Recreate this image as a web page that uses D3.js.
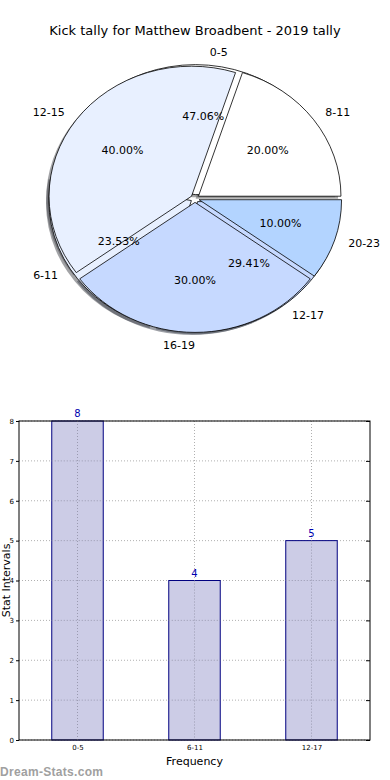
<!DOCTYPE html>
<html>
<head>
<meta charset="utf-8">
<script src="https://cdn.jsdelivr.net/npm/d3@7"></script>
<style>
  body { margin: 0; background: #fff; }
  svg { display: block; font-family: "DejaVu Sans", sans-serif; }
</style>
</head>
<body>
<div id="chart"></div>
<script>
// data
var titleText = "Kick tally for Matthew Broadbent - 2019 tally";

// pie drawn first (sits underneath)
var pieLabelsA = ["0-5", "6-11", "12-17"];
var pieValuesA = [8, 4, 5];
// pie drawn on top
var pieLabelsB = ["8-11", "12-15", "16-19", "20-23"];
var pieValuesB = [2, 4, 3, 1];
var pieColors = ["#ffffff", "#e8f0ff", "#c6d9ff", "#b3d4ff"];

var barCategories = ["0-5", "6-11", "12-17"];
var barValues = [8, 4, 5];
var yTickValues = [0, 1, 2, 3, 4, 5, 6, 7, 8];

var W = 390, H = 780;
var svg = d3.select("#chart").append("svg").attr("width", W).attr("height", H);

svg.append("text")
  .attr("x", 195).attr("y", 35)
  .attr("text-anchor", "middle")
  .style("font-size", "13px")
  .text(titleText);

// ---------- pie ----------
var cx = 195, cy = 198.5, rx = 142.5, ry = 130;
var R = 100, explode = 0.03;

var pieGen = d3.pie().sort(null)
  .startAngle(Math.PI / 2)              // matplotlib: start at 3 o'clock
  .endAngle(Math.PI / 2 - 2 * Math.PI); // counter clockwise
var arc = d3.arc().innerRadius(0).outerRadius(R);

var pieG = svg.append("g");
var scaled = "translate(" + cx + "," + cy + ") scale(" + rx / R + "," + ry / R + ")";
// shadows sit below every wedge, like matplotlib's zorder
var shadowG = pieG.append("g").attr("transform", scaled);
var wedgeG = pieG.append("g").attr("transform", scaled);
var textG = pieG.append("g");

function midAngle(d) { return (d.startAngle + d.endAngle) / 2; }

function drawPie(labels, values) {
  var arcs = pieGen(values);
  var total = d3.sum(values);
  arcs.forEach(function(d, i) {
    var a = midAngle(d);
    var sx = Math.sin(a), sy = -Math.cos(a);
    var ox = explode * R * sx, oy = explode * R * sy;
    var c = d3.rgb(pieColors[i]);
    shadowG.append("path")
      .attr("d", arc(d))
      .attr("transform", "translate(" + (ox - 2) + "," + (oy + 2) + ")")
      .attr("fill", d3.rgb(c.r * 0.3, c.g * 0.3, c.b * 0.3))
      .attr("fill-opacity", 0.5);
    wedgeG.append("path")
      .attr("d", arc(d))
      .attr("transform", "translate(" + ox + "," + oy + ")")
      .attr("fill", pieColors[i])
      .attr("stroke", "#000")
      .attr("stroke-width", 0.8)
      .attr("vector-effect", "non-scaling-stroke");

    var ex = cx + explode * rx * sx, ey = cy + explode * ry * sy;
    textG.append("text")
      .attr("x", ex + 1.1 * rx * sx)
      .attr("y", ey + 1.1 * ry * sy)
      .attr("text-anchor", sx > 0 ? "start" : "end")
      .attr("dominant-baseline", "central")
      .style("font-size", "11px")
      .text(labels[i]);
    textG.append("text")
      .attr("x", ex + 0.6 * rx * sx)
      .attr("y", ey + 0.6 * ry * sy)
      .attr("text-anchor", "middle")
      .attr("dominant-baseline", "central")
      .style("font-size", "11px")
      .text(d3.format(".2f")(values[i] / total * 100) + "%");
  });
}

drawPie(pieLabelsA, pieValuesA);
drawPie(pieLabelsB, pieValuesB);

// ---------- bars ----------
var plotL = 19, plotR = 370, plotT = 421, plotB = 740;

var x = d3.scaleLinear().domain([-0.5, barCategories.length - 0.5]).range([plotL, plotR]);
var y = d3.scaleLinear().domain([0, 8]).range([plotB, plotT]);
var barW = 0.44;

var barG = svg.append("g");

// grid
barG.selectAll("line.gy").data(yTickValues).enter().append("line")
  .attr("x1", plotL).attr("x2", plotR)
  .attr("y1", function(d) { return y(d); }).attr("y2", function(d) { return y(d); })
  .attr("stroke", "#b0b0b0").attr("stroke-width", 1).attr("stroke-dasharray", "1,2");
barG.selectAll("line.gx").data(barCategories).enter().append("line")
  .attr("x1", function(d, i) { return x(i); }).attr("x2", function(d, i) { return x(i); })
  .attr("y1", plotT).attr("y2", plotB)
  .attr("stroke", "#b0b0b0").attr("stroke-width", 1).attr("stroke-dasharray", "1,2");

barG.selectAll("rect.bar").data(barValues).enter().append("rect")
  .attr("x", function(d, i) { return x(i - barW / 2); })
  .attr("width", x(barW) - x(0))
  .attr("y", function(d) { return y(d); })
  .attr("height", function(d) { return y(0) - y(d); })
  .attr("fill", "#cccce6")
  .attr("stroke", "#000080")
  .attr("stroke-width", 1);

// grid shows through the bars
barG.selectAll("line.gx2").data(barCategories).enter().append("line")
  .attr("x1", function(d, i) { return x(i); }).attr("x2", function(d, i) { return x(i); })
  .attr("y1", function(d, i) { return y(barValues[i]); }).attr("y2", plotB)
  .attr("stroke", "#9a9ab0").attr("stroke-width", 1).attr("stroke-dasharray", "1,2");
barG.selectAll("g.gy2").data(barValues).enter().append("g")
  .each(function(v, i) {
    d3.select(this).selectAll("line").data(yTickValues.filter(function(t) { return t > 0 && t < v; }))
      .enter().append("line")
      .attr("x1", x(i - barW / 2)).attr("x2", x(i + barW / 2))
      .attr("y1", function(t) { return y(t); }).attr("y2", function(t) { return y(t); })
      .attr("stroke", "#9a9ab0").attr("stroke-width", 1).attr("stroke-dasharray", "1,2");
  });

barG.selectAll("text.val").data(barValues).enter().append("text")
  .attr("x", function(d, i) { return x(i); })
  .attr("y", function(d) { return y(d) - 4; })
  .attr("text-anchor", "middle")
  .attr("fill", "#0000b0")
  .style("font-size", "10px")
  .text(function(d) { return d; });

// frame
barG.append("rect")
  .attr("x", plotL).attr("y", plotT)
  .attr("width", plotR - plotL).attr("height", plotB - plotT)
  .attr("fill", "none").attr("stroke", "#000").attr("stroke-width", 1);

var yAxis = barG.append("g")
  .attr("transform", "translate(" + plotL + ",0)")
  .call(d3.axisLeft(y).tickValues(yTickValues).tickSize(3).tickPadding(2));
yAxis.select(".domain").remove();
yAxis.selectAll("text").style("font-size", "7px").style("font-family", "DejaVu Sans");
// right side inner ticks
barG.append("g")
  .attr("transform", "translate(" + plotR + ",0)")
  .call(d3.axisLeft(y).tickValues(yTickValues).tickSize(4).tickFormat(""))
  .select(".domain").remove();

var xAxis = barG.append("g")
  .attr("transform", "translate(0," + plotB + ")")
  .call(d3.axisBottom(x).tickValues(d3.range(barCategories.length))
    .tickFormat(function(i) { return barCategories[i]; }).tickSize(0).tickPadding(5));
xAxis.select(".domain").remove();
xAxis.selectAll("text").style("font-size", "7px").style("font-family", "DejaVu Sans");

barG.append("text")
  .attr("x", (plotL + plotR) / 2).attr("y", 765)
  .attr("text-anchor", "middle")
  .style("font-size", "11px")
  .text("Frequency");

barG.append("text")
  .attr("transform", "translate(9.5," + (plotT + plotB) / 2 + ") rotate(-90)")
  .attr("text-anchor", "middle")
  .style("font-size", "11px")
  .text("Stat Intervals");

svg.append("text")
  .attr("x", 0).attr("y", 776)
  .attr("fill", "#a0a0a0")
  .style("font-family", "'Liberation Sans', sans-serif")
  .style("font-size", "12px")
  .style("font-weight", "bold")
  .attr("textLength", 103)
  .text("Dream-Stats.com");
</script>
</body>
</html>
